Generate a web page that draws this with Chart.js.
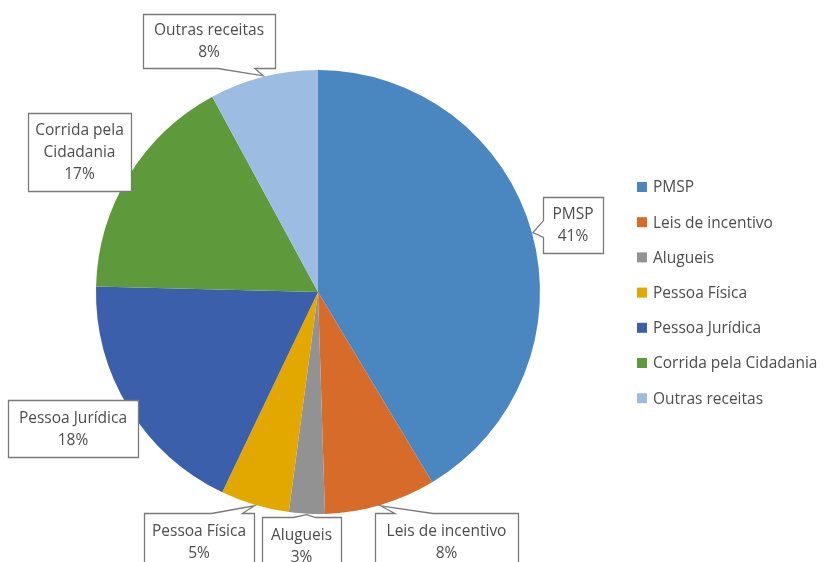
<!DOCTYPE html>
<html>
<head>
<meta charset="utf-8">
<script src="https://cdn.jsdelivr.net/npm/chart.js@4.4.1/dist/chart.umd.min.js"></script>
<style>
  html, body { margin: 0; padding: 0; background: #fff; }
  canvas { display: block; }
</style>
</head>
<body>
<canvas id="pie" width="829" height="562"></canvas>
<script>
// dados
const categories = ['PMSP', 'Leis de incentivo', 'Alugueis', 'Pessoa Física', 'Pessoa Jurídica', 'Corrida pela Cidadania', 'Outras receitas'];
const shares = [41.4, 8.1, 2.6, 5.0, 18.3, 16.7, 7.9];
const sliceColors = ['#4a87c0', '#d66b2a', '#929292', '#e2a800', '#3b5fab', '#5e9a3c', '#9cbce2'];

// caixas dos rótulos: [x, y, largura, altura]
const calloutBoxes = [
  [543, 197, 60, 56],
  [375, 513, 143, 57],
  [262, 517, 79, 57],
  [144, 513, 110, 57],
  [8, 400, 130, 57],
  [28, 113, 103, 78],
  [143, 14, 132, 54]
];

const FONT = '15.5px "Open Sans", sans-serif';
const TEXT_COLOR = '#4d4d4d';
const LINE_H = 22;

function wrapText(ctx, text, maxW){
  const words = text.split(' ');
  const lines = [];
  let cur = '';
  words.forEach(w => {
    const t = cur ? cur + ' ' + w : w;
    if(cur && ctx.measureText(t).width > maxW){ lines.push(cur); cur = w; }
    else cur = t;
  });
  if(cur) lines.push(cur);
  return lines;
}

function calloutPath(ctx, x, y, w, h, tip){
  const inside = tip.x >= x && tip.x <= x + w && tip.y >= y && tip.y <= y + h;
  let edge = null;
  if(!inside){
    if(tip.y < y) edge = 'top';
    else if(tip.y > y + h) edge = 'bottom';
    else if(tip.x < x) edge = 'left';
    else edge = 'right';
  }
  const cx = x + w / 2, cy = y + h / 2;
  let a, b;
  if(edge === 'top' || edge === 'bottom'){
    const bw = Math.min(38, w * 0.28);
    let c = (tip.x + cx) / 2;
    c = Math.max(x + bw / 2 + 3, Math.min(x + w - bw / 2 - 3, c));
    a = c - bw / 2; b = c + bw / 2;
  } else if(edge){
    const bw = Math.min(38, h * 0.3);
    let c = (tip.y + cy) / 2;
    c = Math.max(y + bw / 2 + 3, Math.min(y + h - bw / 2 - 3, c));
    a = c - bw / 2; b = c + bw / 2;
  }
  ctx.beginPath();
  ctx.moveTo(x, y);
  if(edge === 'top'){ ctx.lineTo(a, y); ctx.lineTo(tip.x, tip.y); ctx.lineTo(b, y); }
  ctx.lineTo(x + w, y);
  if(edge === 'right'){ ctx.lineTo(x + w, a); ctx.lineTo(tip.x, tip.y); ctx.lineTo(x + w, b); }
  ctx.lineTo(x + w, y + h);
  if(edge === 'bottom'){ ctx.lineTo(b, y + h); ctx.lineTo(tip.x, tip.y); ctx.lineTo(a, y + h); }
  ctx.lineTo(x, y + h);
  if(edge === 'left'){ ctx.lineTo(x, b); ctx.lineTo(tip.x, tip.y); ctx.lineTo(x, a); }
  ctx.closePath();
}

const calloutPlugin = {
  id: 'callouts',
  afterDatasetsDraw(chart){
    const ctx = chart.ctx;
    const meta = chart.getDatasetMeta(0);
    const total = chart.data.datasets[0].data.reduce((s, v) => s + v, 0);
    ctx.save();
    ctx.font = FONT;
    meta.data.forEach((arc, i) => {
      const p = arc.getProps(['x', 'y', 'startAngle', 'endAngle', 'outerRadius'], true);
      const mid = (p.startAngle + p.endAngle) / 2;
      const tip = { x: p.x + Math.cos(mid) * (p.outerRadius + 1), y: p.y + Math.sin(mid) * (p.outerRadius + 1) };
      const [bx, by, bw, bh] = calloutBoxes[i];
      calloutPath(ctx, bx + 0.5, by + 0.5, bw, bh, tip);
      ctx.fillStyle = '#ffffff';
      ctx.fill();
      ctx.strokeStyle = '#7a7a7a';
      ctx.lineWidth = 1.3;
      ctx.stroke();
      const pct = Math.round(chart.data.datasets[0].data[i] / total * 100) + '%';
      const lines = wrapText(ctx, chart.data.labels[i], bw - 4).concat([pct]);
      ctx.fillStyle = TEXT_COLOR;
      ctx.textAlign = 'center';
      ctx.textBaseline = 'middle';
      const top = by + bh / 2 - (lines.length - 1) * LINE_H / 2 + 1;
      lines.forEach((ln, k) => ctx.fillText(ln, bx + bw / 2, top + k * LINE_H));
    });
    ctx.restore();
  },
  afterDraw(chart){
    const ctx = chart.ctx;
    const colors = chart.data.datasets[0].backgroundColor;
    ctx.save();
    ctx.font = FONT;
    ctx.textAlign = 'left';
    ctx.textBaseline = 'middle';
    chart.data.labels.forEach((lbl, i) => {
      const yy = 187 + i * 35.2;
      ctx.fillStyle = colors[i];
      ctx.fillRect(637, yy - 5, 10, 10);
      ctx.fillStyle = TEXT_COLOR;
      ctx.fillText(lbl, 653, yy + 1);
    });
    ctx.restore();
  }
};

new Chart(document.getElementById('pie').getContext('2d'), {
  type: 'pie',
  data: {
    labels: categories,
    datasets: [{
      data: shares,
      backgroundColor: sliceColors,
      borderWidth: 0
    }]
  },
  options: {
    responsive: false,
    animation: false,
    layout: { padding: { left: 96, right: 289, top: 70, bottom: 48 } },
    plugins: {
      legend: { display: false },
      tooltip: { enabled: false }
    }
  },
  plugins: [calloutPlugin]
});
</script>
</body>
</html>
